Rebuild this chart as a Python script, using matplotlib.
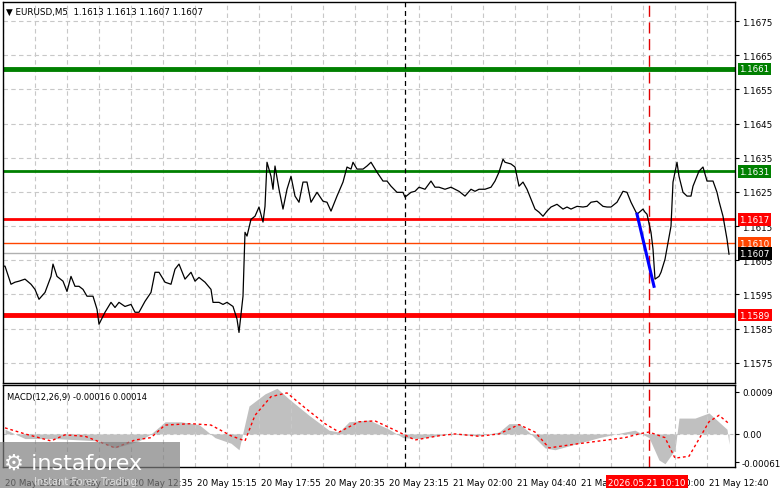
import matplotlib.pyplot as plt
from matplotlib.patches import Rectangle

# price trace, bar index -> close
bars = [0, 1, 4, 6, 8, 11, 14, 16, 18, 21, 24, 25, 27, 30, 32, 34, 36, 38, 40, 42, 45, 47, 48, 51, 54, 56, 58, 61, 64, 66,
        68, 71, 74, 76, 78, 81, 84, 86, 88, 91, 94, 96, 98, 101, 104, 105, 108, 110, 112, 115, 117, 118, 120, 121, 122, 124,
        126, 128, 130, 131, 132, 134, 135, 136, 138, 140, 142, 144, 146, 148, 150, 152, 154, 157, 160, 162, 164, 167, 170,
        172, 174, 175, 177, 180, 182, 184, 187, 190, 192, 194, 197, 200, 201, 204, 206, 208, 211, 214, 216, 218, 221, 224,
        226, 228, 231, 234, 236, 238, 241, 244, 246, 248, 250, 251, 254, 256, 258, 260, 262, 264, 266, 268, 270, 272, 274,
        277, 280, 282, 284, 287, 290, 292, 294, 297, 300, 302, 304, 307, 310, 312, 314, 317, 320, 321, 322, 324, 325, 326,
        328, 329, 331, 334, 335, 337, 338, 340, 342, 344, 345, 347, 348, 350, 352, 354, 355, 357, 358, 360, 362, 363]
closes = [1.16033, 1.16033, 1.15980, 1.15986, 1.15989, 1.15995, 1.15980, 1.15965, 1.15936, 1.15956, 1.16003, 1.16039,
          1.16003, 1.15989, 1.15959, 1.16003, 1.15974, 1.15974, 1.15965, 1.15945, 1.15945, 1.15907, 1.15863, 1.15898,
          1.15927, 1.15912, 1.15927, 1.15915, 1.15921, 1.15898, 1.15898, 1.15930, 1.15956, 1.16015, 1.16015, 1.15986,
          1.15980, 1.16024, 1.16039, 1.15995, 1.16015, 1.15989, 1.16000, 1.15986, 1.15965, 1.15927, 1.15927, 1.15921,
          1.15927, 1.15915, 1.15878, 1.15839, 1.15945, 1.16132, 1.16121, 1.16170, 1.16179, 1.16206, 1.16162, 1.16208,
          1.16337, 1.16296, 1.16258, 1.16326, 1.16258, 1.16200, 1.16258, 1.16296, 1.16238, 1.16220, 1.16279, 1.16279,
          1.16220, 1.16249, 1.16223, 1.16220, 1.16194, 1.16238, 1.16279, 1.16323, 1.16317, 1.16337, 1.16317, 1.16317,
          1.16326, 1.16337, 1.16308, 1.16282, 1.16282, 1.16267, 1.16249, 1.16249, 1.16235, 1.16249, 1.16252, 1.16264,
          1.16258, 1.16282, 1.16264, 1.16264, 1.16258, 1.16264, 1.16258, 1.16252, 1.16238, 1.16258, 1.16252, 1.16258,
          1.16258, 1.16264, 1.16282, 1.16308, 1.16346, 1.16337, 1.16332, 1.16323, 1.16267, 1.16279, 1.16258, 1.16229,
          1.16200, 1.16191, 1.16179, 1.16194, 1.16206, 1.16214, 1.16200, 1.16206, 1.16200, 1.16208, 1.16206, 1.16208,
          1.16220, 1.16223, 1.16208, 1.16206, 1.16206, 1.16220, 1.16252, 1.16249, 1.16220, 1.16185, 1.16200, 1.16191,
          1.16185, 1.16132, 1.16083, 1.15995, 1.16003, 1.16015, 1.16053, 1.16150, 1.16279, 1.16337, 1.16296, 1.16249,
          1.16238, 1.16238, 1.16267, 1.16296, 1.16311, 1.16323, 1.16282, 1.16282, 1.16282, 1.16249, 1.16223, 1.16179,
          1.16112, 1.16068]

# MACD panel
macd_bars = [1, 11, 26, 48, 56, 68, 74, 81, 89, 98, 106, 114, 118, 123, 131, 137, 143, 153, 163, 168, 173, 183, 193,
             200, 208, 223, 238, 248, 253, 258, 263, 271, 276, 286, 298, 311, 316, 323, 328, 331, 336, 338, 346, 353, 362,
             363]
macd_hist = [0.0001, -0.0001, -0.0001, -0.00015, -0.0003, -0.00015, 0.0, 0.00026, 0.00026, 0.0002, -0.00008, -0.0002,
             -0.00034, 0.0006, 0.00086, 0.00098, 0.00075, 0.0004, 0.00008, 0.00004, 0.00026, 0.0003, 0.0001, -0.00008,
             -0.0001, 0.0, -0.00004, 0.00004, 0.00022, 0.00022, 0.00004, -0.0003, -0.00034, -0.00022, -0.00008, 0.00004,
             0.00008, -0.00008, -0.00056, -0.00064, -0.00034, 0.00034, 0.00034, 0.00045, 0.0001, -0.00022]
sig_bars = [1, 11, 24, 31, 41, 56, 66, 74, 81, 94, 104, 114, 121, 126, 134, 142, 151, 161, 168, 178, 186, 196, 206,
            218, 226, 238, 248, 258, 266, 273, 286, 311, 318, 323, 331, 336, 343, 353, 358, 363]
sig_vals = [0.00013, 0.0, -0.00015, -0.00002, -0.00005, -0.0003, -0.00013, -0.00008, 0.00019, 0.00022, 0.00019,
            -0.00004, -0.00015, 0.0004, 0.0008, 0.00088, 0.00056, 0.00022, 0.00004, 0.00026, 0.00028, 0.00008, -0.00013,
            -0.00004, 0.0, -0.00005, 0.0, 0.0002, 0.00004, -0.0003, -0.00022, -0.00008, 0.0, 0.00004, -0.00008, -0.00052,
            -0.00048, 0.00026, 0.0004, 0.00022]

tick_labels = ['20 May 2026', '20 May 09:55', '20 May 12:35', '20 May 15:15', '20 May 17:55', '20 May 20:35',
               '20 May 23:15', '21 May 02:00', '21 May 04:40', '21 May 07:20', '21 May 10:00', '21 May 12:40']
price_ticks = [1.1575, 1.1585, 1.1595, 1.1605, 1.1615, 1.1625, 1.1635, 1.1645, 1.1655, 1.1665, 1.1675]

W, H = 781, 489
fig = plt.figure(figsize=(W / 100, H / 100), dpi=100)
fig.patch.set_facecolor('white')
plt.rcParams['font.family'] = ['DejaVu Sans']
FS = 6.3
GRID = '#c8c8c8'


def frac(x0, y0, x1, y1):
    return [x0 / W, 1 - y1 / H, (x1 - x0) / W, (y1 - y0) / H]


ax = fig.add_axes(frac(3, 3, 735, 384))
ax2 = fig.add_axes(frac(3, 386, 735, 468))
xmin, xmax = 0, 366

for a in (ax, ax2):
    a.set_xlim(xmin, xmax)
    for s in a.spines.values():
        s.set_color('black')
        s.set_linewidth(1)
    a.yaxis.tick_right()
    a.tick_params(axis='y', labelsize=FS, length=3, pad=2, colors='black')
    a.set_xticks(range(0, 367, 16), minor=False)
    a.grid(True, axis='x', color=GRID, linestyle=(0, (4, 3)), linewidth=0.8)
    a.tick_params(axis='x', length=0, labelbottom=False)

ax.set_ylim(1.15691, 1.16806)
ax.set_yticks(price_ticks)
ax.set_yticklabels([f'{t:.4f}' for t in price_ticks])
ax.grid(True, axis='y', color=GRID, linestyle=(0, (4, 3)), linewidth=0.8)

# levels
ax.axhline(1.1661, color='#008000', lw=3.5)
ax.axhline(1.1631, color='#008000', lw=2)
ax.axhline(1.1617, color='#ff0000', lw=2)
ax.axhline(1.1589, color='#ff0000', lw=3.5)
ax.axhline(1.1610, color='#ff4500', lw=1)
ax.axhline(1.1607, color='#b0b0b0', lw=1)
ax.axvline(201, color='black', lw=0.9, linestyle=(0, (4, 3)))
ax.axvline(323, color='#e00000', lw=1, linestyle=(0, (8, 4)))
ax2.axvline(201, color='black', lw=0.9, linestyle=(0, (4, 3)))
ax2.axvline(323, color='#e00000', lw=1, linestyle=(0, (8, 4)))

ax.plot(bars, closes, color='black', lw=0.9)
ax.plot([317, 325.5], [1.16185, 1.15974], color='#0000ff', lw=2.2)

for val, fc, tc in [(1.1661, '#008000', 'white'), (1.1631, '#008000', 'white'), (1.1617, '#ff0000', 'white'),
                    (1.1610, '#ff4500', 'white'), (1.1607, 'black', 'white'), (1.1589, '#ff0000', 'white')]:
    ax.text(1.006, val, f'{val:.4f}', transform=ax.get_yaxis_transform(), fontsize=FS, color=tc, va='center',
            ha='left', bbox=dict(boxstyle='square,pad=0.2', fc=fc, ec='none'))

ax.text(0.004, 0.988, '\u25bc EURUSD,M5  1.1613 1.1613 1.1607 1.1607', transform=ax.transAxes, fontsize=FS,
        va='top', ha='left')

# MACD
ax2.set_ylim(-0.00071, 0.00105)
ax2.set_yticks([-0.00061, 0.0, 0.0009])
ax2.set_yticklabels(['-0.00061', '0.00', '0.0009'])
ax2.axhline(0, color='#c0c0c0', lw=0.8, linestyle=(0, (3, 3)))
ax2.fill_between(macd_bars, 0, macd_hist, color='#c0c0c0', lw=0)
ax2.plot(sig_bars, sig_vals, color='#ff0000', lw=1, linestyle=(0, (2, 2)))
ax2.text(0.005, 0.92, 'MACD(12,26,9) -0.00016 0.00014', transform=ax2.transAxes, fontsize=FS - 0.3, va='top')

# time labels
for i, lab in enumerate(tick_labels):
    ax2.text(i * 32 + 1, -0.13, lab, transform=ax2.get_xaxis_transform(), fontsize=FS, va='top', ha='left')
ax2.text(322, -0.13, '2026.05.21 10:10', transform=ax2.get_xaxis_transform(), fontsize=FS, va='top', ha='center',
         color='white', bbox=dict(boxstyle='square,pad=0.25', fc='#ff0000', ec='none'), zorder=5)

# watermark
fig.patches.append(Rectangle((0, 0), 180 / W, 46 / H, transform=fig.transFigure, fc='#7f7f7f', alpha=0.7,
                             ec='none', zorder=10))
fig.text(4 / W, 25 / H, '\u2699 instaforex', fontsize=16, color='white', zorder=11, va='center')
fig.text(34 / W, 7 / H, 'Instant Forex Trading', fontsize=7, color='#e0e0e0', zorder=11, va='center')

fig.savefig('out.png', dpi=100)
